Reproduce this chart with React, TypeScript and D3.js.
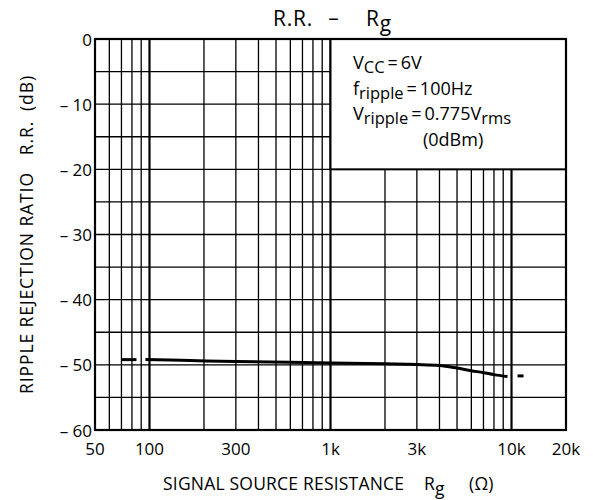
import React from 'react';
import * as d3 from 'd3';

// data
const curveR = [95, 150, 300, 600, 1000, 2000, 3000, 4000, 5000, 6000, 7000, 8000, 9500];
const curveRR = [-49.2, -49.3, -49.5, -49.6, -49.7, -49.85, -49.95, -50.1, -50.5, -50.9, -51.2, -51.5, -51.8];
const lowDashR = [70, 86];
const lowDashRR = [-49.2, -49.2];
const highDashR = [10800, 11800];
const highDashRR = [-51.7, -51.7];

const xTickValues = [50, 100, 300, 1000, 3000, 10000, 20000];
const xTickLabels = ['50', '100', '300', '1k', '3k', '10k', '20k'];
const yTickValues = [0, -10, -20, -30, -40, -50, -60];
const yTickLabels = ['0', '\u2013 10', '\u2013 20', '\u2013 30', '\u2013 40', '\u2013 50', '\u2013 60'];

const W = 593;
const H = 500;
const m = { left: 95, right: 27, top: 39, bottom: 70 };
const font = '"Open Sans", "DejaVu Sans", sans-serif';

const App = () => {
  const x = d3.scaleLog().domain([50, 20000]).range([m.left, W - m.right]);
  const y = d3.scaleLinear().domain([-60, 0]).range([H - m.bottom, m.top]);

  // minor grid: 1..9 per decade from 50 up to 10k
  const vLines: number[] = [];
  for (let dec = 10; dec <= 1000; dec *= 10) {
    for (let k = 1; k <= 9; k++) {
      const v = dec * k;
      if (v > 50 && v <= 10000) vLines.push(v);
    }
  }
  vLines.push(10000);
  const hLines = d3.range(-55, 0, 5);

  const line = d3.line<[number, number]>().x(d => x(d[0])).y(d => y(d[1])).curve(d3.curveMonotoneX);
  const curve = line(curveR.map((r, i) => [r, curveRR[i]]) as [number, number][]) || '';
  const lowDash = line(lowDashR.map((r, i) => [r, lowDashRR[i]]) as [number, number][]) || '';
  const highDash = line(highDashR.map((r, i) => [r, highDashRR[i]]) as [number, number][]) || '';

  const x0 = x.range()[0], x1 = x.range()[1];
  const y0 = y.range()[1], y1 = y.range()[0];
  const boxX = x(1000), boxY = y(-20);

  return (
    <svg width={W} height={H} style={{ position: 'absolute', left: 0, top: 0, background: '#fff' }}
      fontFamily={font}>
      {/* grid */}
      {hLines.map(v => (
        <line key={'h' + v} x1={x0} x2={x1} y1={y(v)} y2={y(v)} stroke="#000" strokeWidth={1.3} />
      ))}
      {vLines.map(v => (
        <line key={'v' + v} x1={x(v)} x2={x(v)} y1={y0} y2={y1} stroke="#000"
          strokeWidth={[100, 1000, 10000].includes(v) ? 2.2 : 1.3} />
      ))}

      {/* legend box over the grid */}
      <rect x={boxX} y={y0} width={x1 - boxX} height={boxY - y0} fill="#fff" stroke="#000" strokeWidth={2} />
      <g fontSize={18} fill="#000">
        <text x={353} y={69}>V<tspan fontSize={16.5} dy={4}>CC</tspan><tspan dy={-4}>{'\u2009=\u20096V'}</tspan></text>
        <text x={353} y={95}>f<tspan fontSize={16.5} dy={4}>ripple</tspan><tspan dy={-4}>{'\u2009=\u2009100Hz'}</tspan></text>
        <text x={353} y={120}>V<tspan fontSize={16.5} dy={4}>ripple</tspan><tspan dy={-4}>{'\u2009=\u20090.775V'}</tspan><tspan fontSize={16.5} dy={4}>rms</tspan></text>
        <text x={423} y={146}>(0dBm)</text>
      </g>

      {/* frame */}
      <rect x={x0} y={y0} width={x1 - x0} height={y1 - y0} fill="none" stroke="#000" strokeWidth={2.2} />

      {/* data */}
      <path d={lowDash} fill="none" stroke="#000" strokeWidth={3} strokeDasharray="15,8" />
      <path d={curve} fill="none" stroke="#000" strokeWidth={3} />
      <path d={highDash} fill="none" stroke="#000" strokeWidth={3} strokeDasharray="6,4" />

      {/* ticks */}
      {yTickValues.map((v, i) => (
        <text key={'yt' + v} x={x0 - 3} y={y(v) + 6.5} textAnchor="end" fontSize={17}>{yTickLabels[i]}</text>
      ))}
      {xTickValues.map((v, i) => (
        <text key={'xt' + v} x={x(v)} y={455} textAnchor="middle" fontSize={17}>{xTickLabels[i]}</text>
      ))}

      {/* title */}
      <g fontSize={21} letterSpacing={0.8}>
        <text x={273} y={26}>R.R.</text>
        <text x={334} y={25} textAnchor="middle">{'\u2013'}</text>
        <text x={366} y={26}>R<tspan dy={5}>g</tspan></text>
      </g>

      {/* x axis title */}
      <g fontSize={17.5} letterSpacing={0.2}>
        <text x={163} y={490}>SIGNAL SOURCE RESISTANCE</text>
        <text x={424} y={490}>R<tspan dy={5}>g</tspan></text>
        <text x={469} y={490}>({'\u03a9'})</text>
      </g>

      {/* y axis title */}
      <g fontSize={17.5} letterSpacing={0.9} textAnchor="middle">
        <text transform="translate(33,283) rotate(-90)">RIPPLE REJECTION RATIO</text>
        <text transform="translate(33,138) rotate(-90)">R.R.</text>
        <text transform="translate(33,93) rotate(-90)">(dB)</text>
      </g>
    </svg>
  );
};

export default App;
